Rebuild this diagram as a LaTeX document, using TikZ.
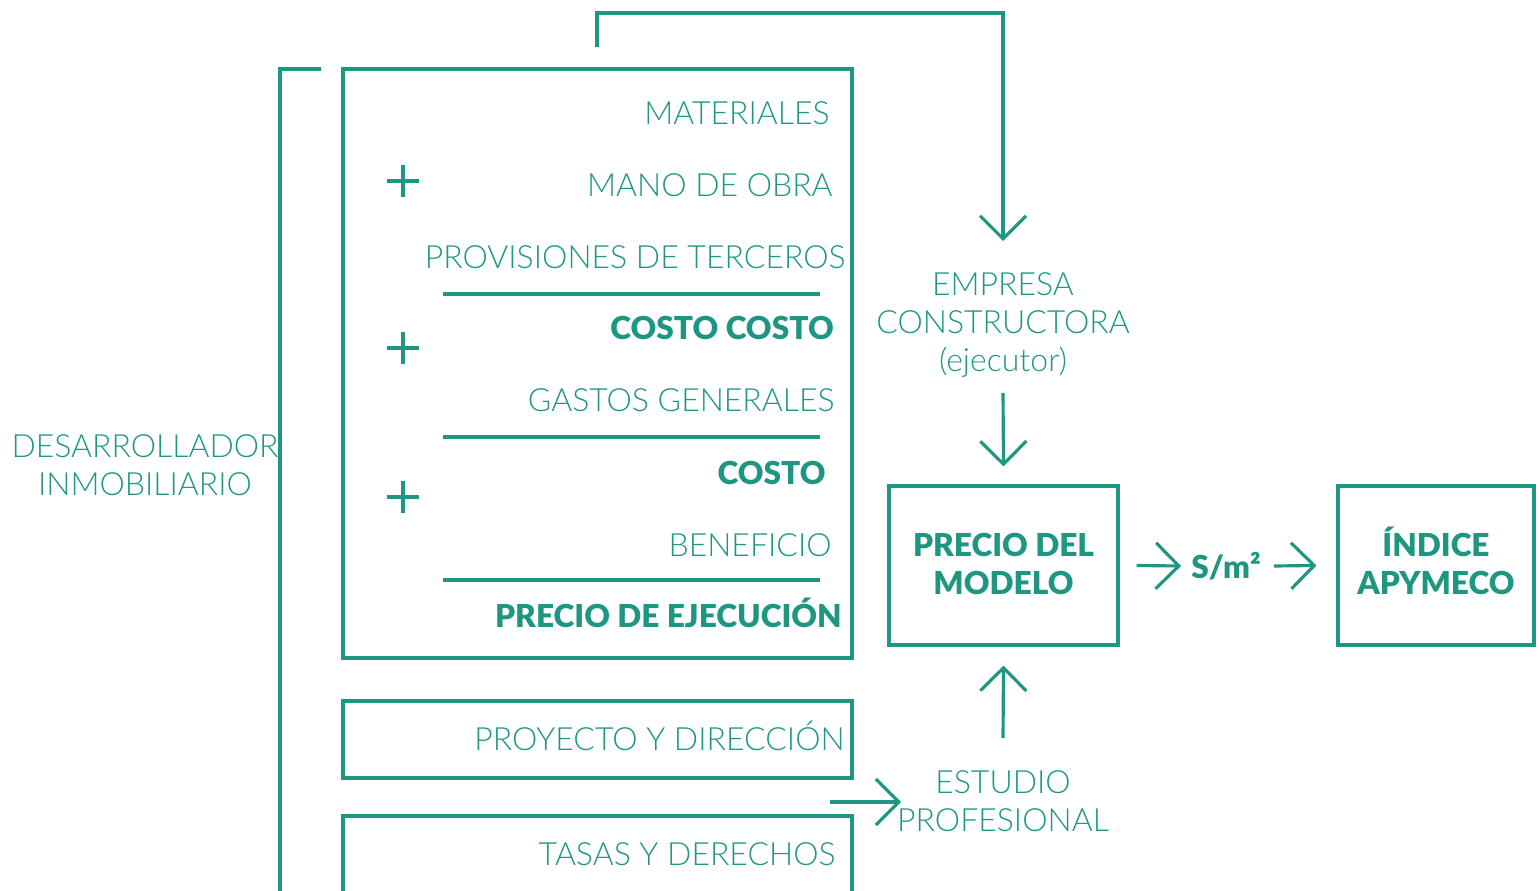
\documentclass[tikz,border=0pt]{standalone}
\usepackage{fontspec}
\setmainfont{Lato}[UprightFont=* Light, BoldFont=* Black]
\usetikzlibrary{arrows.meta,positioning}
\definecolor{verde}{HTML}{1E9682}
\tikzset{%
	caja/.style     = {draw=verde, line width=1.8pt}, % recuadro
	linea/.style    = {draw=verde, line width=1.8pt},
	flecha/.style   = {draw=verde, line width=1.8pt, -{Straight Barb[length=0.46cm, width=0.92cm, line width=1.8pt]}},
	rotulo/.style   = {text=verde, inner sep=0pt, font=\fontsize{18.2}{21.6}\selectfont},
	negrita/.style  = {text=verde, inner sep=0pt, font=\fontsize{18}{21.6}\selectfont\bfseries},
	centro/.style   = {text=verde, inner sep=0pt, align=center, font=\fontsize{18.2}{21.6}\selectfont},
	centronegrita/.style = {text=verde, inner sep=0pt, align=center, font=\fontsize{18}{21.6}\selectfont\bfseries},
	waypoint/.style = {coordinate},
}
\begin{document}
\begin{tikzpicture}[x=0.02cm,y=-0.02cm]
	\useasboundingbox (0,0) rectangle (1540,891);
	% bloque principal
	\draw[caja] (343,69) rectangle (852,658);
	\draw[caja] (343,701) rectangle (852,778);
	\draw[caja] (343,891) -- (343,816) -- (852,816) -- (852,891);
	\draw[linea] (321,69) -- (280,69) -- (280,891);
	\foreach \y in {294,437,580}
		\draw[linea] (443,\y) -- (820,\y);
	\foreach \y in {181,348,497}
		\draw[linea] (387,\y) -- (419,\y) (403,\y-16) -- (403,\y+16);

	\node [rotulo, anchor=base east] (mat) at (830,125) {MATERIALES};
	\node [rotulo, anchor=base east] (mano) at (833,197) {MANO DE OBRA};
	\node [rotulo, anchor=base east] (prov) at (846,269) {PROVISIONES DE TERCEROS};
	\node [negrita, anchor=base east] (cc) at (834,340) {COSTO COSTO};
	\node [rotulo, anchor=base east] (gastos) at (835,412) {GASTOS GENERALES};
	\node [negrita, anchor=base east] (costo) at (826,484) {COSTO};
	\node [rotulo, anchor=base east] (benef) at (832,556) {BENEFICIO};
	\node [negrita, anchor=base east] (pe) at (842,627) {PRECIO DE EJECUCIÓN};
	\node [rotulo, anchor=base east] (proy) at (845,750) {PROYECTO Y DIRECCIÓN};
	\node [rotulo, anchor=base east] (tasas) at (836,865) {TASAS Y DERECHOS};

	\node [centro] (desa) at (145,465) {DESARROLLADOR\\INMOBILIARIO};
	\node [centro] (emp) at (1003,325) {EMPRESA\\CONSTRUCTORA\\(ejecutor)};
	\node [centro] (est) at (1003,801) {ESTUDIO\\PROFESIONAL};

	\node [caja, minimum width=4.58cm, minimum height=3.18cm] (precio) at (1003.5,565.5) {};
	\node [caja, minimum width=3.92cm, minimum height=3.18cm] (indice) at (1436,565.5) {};
	\node [centronegrita, anchor=base] (preciot) at (1003.5,594) {PRECIO DEL\\MODELO};
	\node [centronegrita, anchor=base] (indicet) at (1436,594) {ÍNDICE\\APYMECO};
	\node [negrita] (sm) at (1226,566) {S/m²};

	\node [waypoint] (top) at (597,47) {};
	\node [waypoint] (wp1) at (597,13) {};
	\node [waypoint] (wp2) at (1003,13) {};
	\node [waypoint] (tip1) at (1003,241) {};
	\node [waypoint] (a2) at (1003,393) {};
	\node [waypoint] (a3) at (1003,738) {};
	\node [waypoint] (a4) at (830,802) {};
	\node [waypoint] (a4e) at (901,802) {};

	\draw[flecha] (top) -- (wp1) -- (wp2) -- (tip1);
	\draw[flecha] (a2) -- ([yshift=0.36cm]precio.north);
	\draw[flecha] (a3) -- ([yshift=-0.38cm]precio.south);
	\draw[flecha] (a4) -- (a4e);
	\draw[flecha] ([xshift=0.34cm]precio.east) -- ([xshift=-0.2cm]sm.west);
	\draw[flecha] ([xshift=0.26cm]sm.east) -- ([xshift=-0.4cm]indice.west);
\end{tikzpicture}
\end{document}
